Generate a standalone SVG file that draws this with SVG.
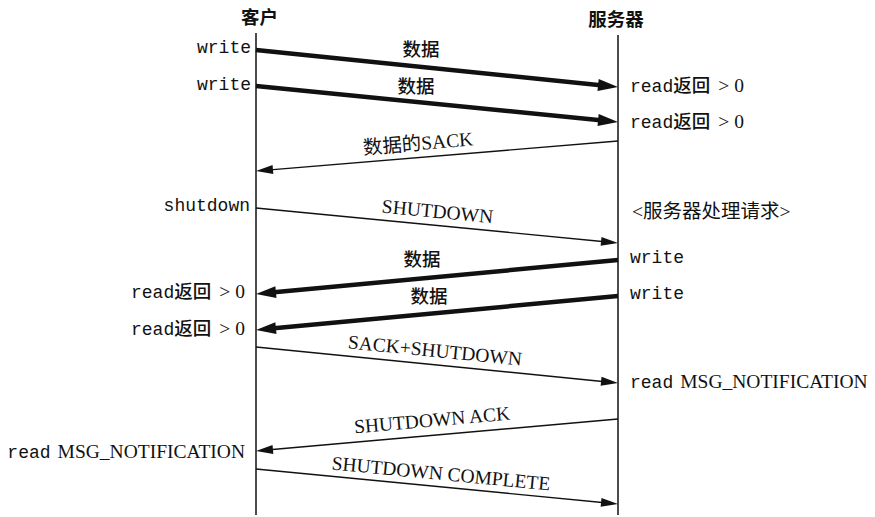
<svg xmlns="http://www.w3.org/2000/svg" width="875" height="517" viewBox="0 0 875 517">
<style>
text{fill:#111}
.mono{font-family:"Liberation Mono","Noto Sans CJK SC",monospace;font-size:18px}
.cjk{font-family:"Noto Sans CJK SC",sans-serif;font-size:18.5px;font-weight:500}
.head{font-family:"Noto Sans CJK SC",sans-serif;font-size:18.5px;font-weight:700}
.serif{font-family:"Liberation Serif","Noto Sans CJK SC",serif;font-size:19.5px}
.life{stroke:#111;stroke-width:1.5;fill:none}
.thick{stroke:#111;stroke-width:4.5;fill:none;marker-end:url(#ah)}
.thin{stroke:#111;stroke-width:1.4;fill:none;marker-end:url(#at)}
</style>
<defs>
<marker id="ah" markerUnits="userSpaceOnUse" markerWidth="20" markerHeight="12" refX="10" refY="6" orient="auto" overflow="visible"><path d="M0,0 L20,6 L0,12 z" fill="#111"/></marker>
<marker id="at" markerUnits="userSpaceOnUse" markerWidth="17" markerHeight="9" refX="9" refY="4.5" orient="auto" overflow="visible"><path d="M0,0 L17,4.5 L0,9 z" fill="#111"/></marker>
</defs>
<rect width="875" height="517" fill="#fff"/>

<g id="client">
<text class="head" x="259.5" y="24" text-anchor="middle">客户</text>
<line class="life" x1="256" y1="33" x2="256" y2="515"/>
<text class="mono" x="251" y="53" text-anchor="end">write</text>
<text class="mono" x="251" y="90" text-anchor="end">write</text>
<text class="mono" x="250" y="211" text-anchor="end">shutdown</text>
<text x="245" y="298" text-anchor="end"><tspan class="mono">read</tspan><tspan class="cjk">返回</tspan><tspan class="serif" dx="8">&gt;</tspan><tspan class="serif" dx="5">0</tspan></text>
<text x="245" y="335" text-anchor="end"><tspan class="mono">read</tspan><tspan class="cjk">返回</tspan><tspan class="serif" dx="8">&gt;</tspan><tspan class="serif" dx="5">0</tspan></text>
<text x="245" y="458" text-anchor="end"><tspan class="mono">read</tspan><tspan class="serif" dx="7">MSG_NOTIFICATION</tspan></text>
</g>

<g id="server">
<text class="head" x="616" y="26" text-anchor="middle">服务器</text>
<line class="life" x1="618" y1="35" x2="618" y2="515"/>
<text x="630" y="92"><tspan class="mono">read</tspan><tspan class="cjk">返回</tspan><tspan class="serif" dx="8">&gt;</tspan><tspan class="serif" dx="5">0</tspan></text>
<text x="630" y="128"><tspan class="mono">read</tspan><tspan class="cjk">返回</tspan><tspan class="serif" dx="8">&gt;</tspan><tspan class="serif" dx="5">0</tspan></text>
<text class="serif" x="632" y="218">&lt;服务器处理请求&gt;</text>
<text class="mono" x="630" y="263">write</text>
<text class="mono" x="630" y="299">write</text>
<text x="630" y="388"><tspan class="mono">read</tspan><tspan class="serif" dx="7">MSG_NOTIFICATION</tspan></text>
</g>

<g id="connectors">
<line class="thick" x1="256" y1="50" x2="608.05" y2="85.98"/>
<text class="cjk" x="421" y="56" text-anchor="middle">数据</text>
<line class="thick" x1="256" y1="86" x2="608.05" y2="121.01"/>
<text class="cjk" x="416" y="93" text-anchor="middle">数据</text>
<line class="thin" x1="618" y1="141" x2="263.97" y2="170.34"/>
<text class="serif" x="418" y="150" text-anchor="middle" transform="rotate(-4.74 418 143)">数据的SACK</text>
<line class="thin" x1="256" y1="208" x2="610.04" y2="242.23"/>
<text class="serif" x="437.5" y="218" text-anchor="middle" transform="rotate(5.5 437.5 211.5)">SHUTDOWN</text>
<line class="thick" x1="618" y1="260" x2="265.96" y2="293.07"/>
<text class="cjk" x="422" y="266" text-anchor="middle">数据</text>
<line class="thick" x1="618" y1="296" x2="265.96" y2="329.07"/>
<text class="cjk" x="429" y="303" text-anchor="middle">数据</text>
<line class="thin" x1="256" y1="347" x2="610.04" y2="382.21"/>
<text class="serif" x="435" y="357" text-anchor="middle" transform="rotate(5.68 435 350)">SACK+SHUTDOWN</text>
<line class="thin" x1="618" y1="419" x2="263.97" y2="450.30"/>
<text class="serif" x="432" y="426.5" text-anchor="middle" transform="rotate(-5.05 432 419.5)">SHUTDOWN ACK</text>
<line class="thin" x1="256" y1="469" x2="610.04" y2="503.23"/>
<text class="serif" x="441" y="480" text-anchor="middle" transform="rotate(5.5 441 473)">SHUTDOWN COMPLETE</text>
</g>
</svg>
